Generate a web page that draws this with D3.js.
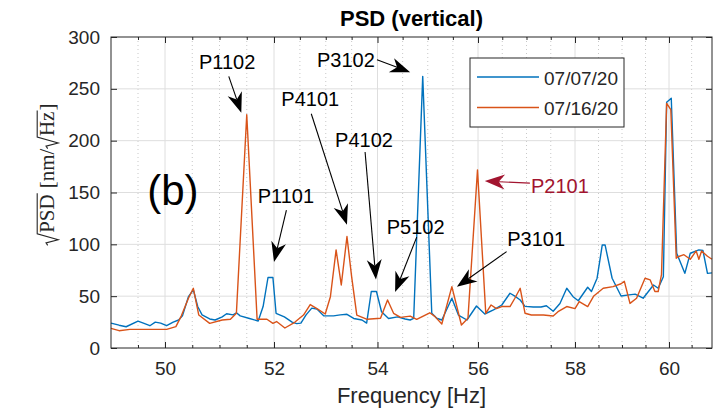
<!DOCTYPE html>
<html>
<head>
<meta charset="utf-8">
<script src="https://d3js.org/d3.v7.min.js"></script>
<style>
  body { margin: 0; background: #fff; }
  svg { display: block; font-family: "Liberation Sans", Arial, sans-serif; }
</style>
</head>
<body>
<div id="chart"></div>
<script>
const blueFreq = [49.00, 49.15, 49.28, 49.50, 49.60, 49.72, 49.82, 49.92, 50.03, 50.15, 50.25, 50.32,
  50.43, 50.52, 50.60, 50.68, 50.82, 50.92, 51.05, 51.13, 51.25, 51.31, 51.38, 51.55, 51.71, 51.80,
  51.89, 51.98, 52.04, 52.20, 52.35, 52.44, 52.52, 52.62, 52.73, 52.83, 52.96, 53.15, 53.28, 53.41,
  53.54, 53.70, 53.79, 53.88, 53.98, 54.08, 54.22, 54.40, 54.55, 54.65, 54.72, 54.90, 55.08, 55.18,
  55.28, 55.48, 55.61, 55.78, 55.97, 56.14, 56.32, 56.49, 56.66, 56.76, 56.87, 56.97, 57.14, 57.30,
  57.41, 57.55, 57.69, 57.83, 57.96, 58.07, 58.27, 58.35, 58.47, 58.58, 58.64, 58.79, 58.98, 59.15,
  59.28, 59.45, 59.67, 59.77, 59.88, 59.95, 60.05, 60.17, 60.35, 60.47, 60.66, 60.75, 60.85, 60.95];
const blueVal = [24, 22, 20.5, 26, 24, 21.5, 25, 24, 21.5, 25, 27, 31,
  49.5, 56, 40, 32, 28, 27, 30, 33, 32, 34, 31, 28.5, 26, 40,
  68, 68, 33.5, 30, 25, 23.5, 24, 32, 38.5, 37.5, 31, 31, 32, 32.5,
  28.5, 27, 24, 54.5, 54.5, 35, 28.5, 30, 28, 27, 28.5, 262, 33.5, 28.7,
  27, 48, 31.8, 27, 40.5, 32.8, 36.7, 41.5, 52.8, 50, 46.3, 40.2, 39.6, 39.6,
  40.8, 35.5, 43, 57.6, 49.5, 45.6, 58.6, 54.5, 67.3, 99.4, 99.4, 67.3, 50.2, 51.2,
  52, 48, 60.8, 57.6, 68.8, 237, 241, 91.4, 72, 91.4, 94.6, 94, 72, 72.5];

const orangeFreq = [49.00, 49.15, 49.35, 49.60, 49.80, 50.03, 50.20, 50.30, 50.43, 50.52, 50.62, 50.82,
  51.05, 51.20, 51.31, 51.50, 51.69, 51.87, 51.98, 52.05, 52.21, 52.40, 52.57, 52.70, 52.83, 52.99,
  53.09, 53.20, 53.30, 53.41, 53.50, 53.60, 53.80, 54.06, 54.20, 54.32, 54.46, 54.65, 54.78, 55.04,
  55.14, 55.28, 55.48, 55.67, 55.80, 55.99, 56.16, 56.27, 56.38, 56.49, 56.66, 56.76, 56.87, 56.97,
  57.10, 57.35, 57.55, 57.65, 57.83, 58.00, 58.09, 58.27, 58.40, 58.60, 58.81, 58.98, 59.05, 59.17,
  59.31, 59.49, 59.60, 59.70, 59.77, 59.84, 59.95, 60.04, 60.16, 60.20, 60.33, 60.47, 60.60, 60.66,
  60.72, 60.85, 60.95];
const orangeVal = [19, 16.7, 18, 18, 18, 18, 20.6, 31, 48, 57.6, 31.8, 23.8,
  27, 27.7, 33.5, 225, 27.7, 27.7, 23.8, 25.5, 19.3, 24.8, 31.8, 41.9, 38, 32.8,
  49.5, 94.6, 60.8, 107.5, 68.8, 31.8, 27.7, 28.7, 46.3, 33.5, 29.5, 30.8, 27.7, 34,
  30.5, 23.2, 59.2, 22.2, 28.7, 171.8, 33.5, 41.5, 38, 40, 40, 48, 57.6, 33.5,
  31.8, 31.8, 30.8, 35, 40, 38, 44.8, 40, 50.2, 57.6, 59.2, 62, 64.3, 43,
  48, 67.3, 65.7, 54.5, 54.5, 70.7, 236, 230, 86.6, 88, 90, 85.6, 93.6, 85.6,
  93.6, 88.5, 85.6];

const seriesNames = ["07/07/20", "07/16/20"];
const xMajorTicks = [50, 52, 54, 56, 58, 60];
const xMinorTicks = [49.5, 50.5, 51, 51.5, 52.5, 53, 53.5, 54.5, 55, 55.5, 56.5, 57, 57.5, 58.5, 59, 59.5, 60.5];
const yTicks = [0, 50, 100, 150, 200, 250, 300];

// peak labels: text anchor [freq, value], arrow from -> to, in data units
const peakLabels = [
  {text: "P1102", at: [51.14, 269], from: [51.17, 262], to: [51.40, 227]},
  {text: "P3102", at: [53.39, 271], from: [53.99, 278], to: [54.65, 266]},
  {text: "P4101", at: [52.70, 233], from: [52.72, 226], to: [53.41, 119]},
  {text: "P4102", at: [53.74, 194], from: [53.76, 189], to: [53.97, 66]},
  {text: "P1101", at: [52.23, 140], from: [52.24, 133], to: [52.00, 83]},
  {text: "P5102", at: [54.76, 110], from: [54.78, 107], to: [54.35, 54]},
  {text: "P3101", at: [57.20, 98], from: [56.59, 93], to: [55.58, 59]},
  {text: "P2101", at: [57.69, 150], from: [57.07, 159], to: [56.14, 161], red: true}
];

const width = 717, height = 416;
const ink = "#262626";
const colors = ["#0072BD", "#D95319"];
const plot = {left: 111, right: 712, top: 37, bottom: 348};

const svg = d3.select("#chart").append("svg")
  .attr("width", width)
  .attr("height", height);

// the reference's frequency axis is a bit stretched on the left, so calibrate on the tick marks
const x = d3.scaleLinear()
  .domain([49, 50, 52, 54, 56, 58, 60, 60.95])
  .range([plot.left, 165, 274, 377.5, 478, 575, 669, plot.right]);
const y = d3.scaleLinear().domain([0, 300]).range([plot.bottom, plot.top]);

// grid
const grid = svg.append("g");
grid.selectAll("line.minor").data(xMinorTicks).enter().append("line")
  .attr("x1", d => x(d)).attr("x2", d => x(d))
  .attr("y1", plot.top).attr("y2", plot.bottom)
  .attr("stroke", "#c8c8c8").attr("stroke-dasharray", "1,3");
grid.selectAll("line.vx").data(xMajorTicks).enter().append("line")
  .attr("x1", d => x(d)).attr("x2", d => x(d))
  .attr("y1", plot.top).attr("y2", plot.bottom)
  .attr("stroke", "#dedede");
grid.selectAll("line.hy").data(yTicks.slice(1, -1)).enter().append("line")
  .attr("x1", plot.left).attr("x2", plot.right)
  .attr("y1", d => y(d)).attr("y2", d => y(d))
  .attr("stroke", "#dedede");

// data lines
const line = d3.line().x(d => x(d[0])).y(d => y(d[1]));
const series = [d3.zip(blueFreq, blueVal), d3.zip(orangeFreq, orangeVal)];
series.forEach((pts, i) => {
  svg.append("path")
    .datum(pts)
    .attr("fill", "none")
    .attr("stroke", colors[i])
    .attr("stroke-width", 1.4)
    .attr("stroke-linejoin", "round")
    .attr("d", line);
});

// axes: ticks point inwards on all four sides, labels only bottom/left
function styleAxis(g) {
  g.select(".domain").remove();
  g.selectAll(".tick line").attr("stroke", ink);
  g.selectAll(".tick text").attr("fill", ink).style("font-size", "19px");
}
svg.append("g").attr("transform", `translate(0,${plot.bottom})`)
  .call(d3.axisBottom(x).tickValues(xMajorTicks).tickSize(-6).tickPadding(14).tickFormat(d3.format("d")))
  .call(styleAxis);
svg.append("g").attr("transform", `translate(0,${plot.bottom})`)
  .call(d3.axisBottom(x).tickValues(xMinorTicks).tickSize(-3).tickFormat(""))
  .call(styleAxis);
svg.append("g").attr("transform", `translate(0,${plot.top})`)
  .call(d3.axisTop(x).tickValues(xMajorTicks).tickSize(-6).tickFormat(""))
  .call(styleAxis);
svg.append("g").attr("transform", `translate(0,${plot.top})`)
  .call(d3.axisTop(x).tickValues(xMinorTicks).tickSize(-3).tickFormat(""))
  .call(styleAxis);
svg.append("g").attr("transform", `translate(${plot.left},0)`)
  .call(d3.axisLeft(y).tickValues(yTicks).tickSize(-6).tickPadding(11))
  .call(styleAxis);
svg.append("g").attr("transform", `translate(${plot.right},0)`)
  .call(d3.axisRight(y).tickValues(yTicks).tickSize(-6).tickFormat(""))
  .call(styleAxis);

svg.append("rect")
  .attr("x", plot.left).attr("y", plot.top)
  .attr("width", plot.right - plot.left).attr("height", plot.bottom - plot.top)
  .attr("fill", "none").attr("stroke", ink).attr("stroke-width", 1);

// title + x label
svg.append("text")
  .attr("x", (plot.left + plot.right) / 2).attr("y", 26)
  .attr("text-anchor", "middle")
  .attr("font-weight", "bold").attr("font-size", 22).attr("fill", "#000")
  .text("PSD (vertical)");
svg.append("text")
  .attr("x", (plot.left + plot.right) / 2).attr("y", 403)
  .attr("text-anchor", "middle")
  .attr("font-size", 22).attr("fill", ink)
  .text("Frequency [Hz]");

// y label, LaTeX-ish: sqrt(PSD) [nm/sqrt(Hz)]
const fs = 21;
const yl = svg.append("g")
  .attr("font-family", "'Liberation Serif', 'Times New Roman', serif")
  .attr("font-size", fs).attr("fill", ink);
const ylInner = yl.append("g");
function addRoot(x0, content) {
  const w = 0.55 * fs;
  const t = ylInner.append("text").attr("x", x0 + w + 1).text(content);
  const len = t.node().getComputedTextLength();
  ylInner.append("path")
    .attr("d", `M${x0},${-0.30 * fs} L${x0 + 0.12 * fs},${-0.38 * fs} L${x0 + 0.27 * fs},${0.2 * fs} ` +
      `L${x0 + w},${-0.8 * fs} H${x0 + w + len + 2}`)
    .attr("fill", "none").attr("stroke", ink).attr("stroke-width", 1.1);
  return x0 + w + len + 2;
}
function addText(x0, content) {
  const t = ylInner.append("text").attr("x", x0).text(content);
  return x0 + t.node().getComputedTextLength();
}
let cursor = addRoot(0, "PSD");
cursor = addText(cursor + 5, "[nm/");
cursor = addRoot(cursor, "Hz");
cursor = addText(cursor, "]");
ylInner.attr("transform", `translate(${-cursor / 2},0)`);
yl.attr("transform", `translate(54,${(plot.top + plot.bottom) / 2 - 18}) rotate(-90)`);

// big panel letter
svg.append("text")
  .attr("x", x(49.67)).attr("y", y(138))
  .attr("font-size", 42).attr("fill", "#000")
  .text("(b)");

// peak annotations
const ann = svg.append("g");
function drawArrow(a, color) {
  const x0 = x(a.from[0]), y0 = y(a.from[1]);
  const x1 = x(a.to[0]), y1 = y(a.to[1]);
  const ang = Math.atan2(y1 - y0, x1 - x0);
  const L = 20, W = 15;
  ann.append("line")
    .attr("x1", x0).attr("y1", y0)
    .attr("x2", x1 - Math.cos(ang) * L * 0.7).attr("y2", y1 - Math.sin(ang) * L * 0.7)
    .attr("stroke", color).attr("stroke-width", 1.1);
  ann.append("path")
    .attr("d", `M0,0 L${-L},${-W / 2} L${-L * 0.7},0 L${-L},${W / 2}Z`)
    .attr("transform", `translate(${x1},${y1}) rotate(${ang * 180 / Math.PI})`)
    .attr("fill", color);
}
peakLabels.forEach(p => {
  const color = p.red ? "#A2142F" : "#000";
  ann.append("text")
    .attr("x", x(p.at[0])).attr("y", y(p.at[1]))
    .attr("text-anchor", "middle")
    .attr("font-size", 20).attr("fill", color)
    .text(p.text);
  drawArrow(p, color);
});

// legend
const lg = svg.append("g").attr("transform", "translate(470,58)");
lg.append("rect").attr("width", 154).attr("height", 69)
  .attr("fill", "#fff").attr("stroke", ink).attr("stroke-width", 1);
seriesNames.forEach((name, i) => {
  const row = lg.append("g").attr("transform", `translate(0,${19 + i * 30.5})`);
  row.append("line").attr("x1", 7).attr("x2", 69)
    .attr("stroke", colors[i]).attr("stroke-width", 1.3);
  row.append("text").attr("x", 74).attr("y", 7.5)
    .attr("font-size", 19).attr("fill", ink)
    .text(name);
});
</script>
</body>
</html>
